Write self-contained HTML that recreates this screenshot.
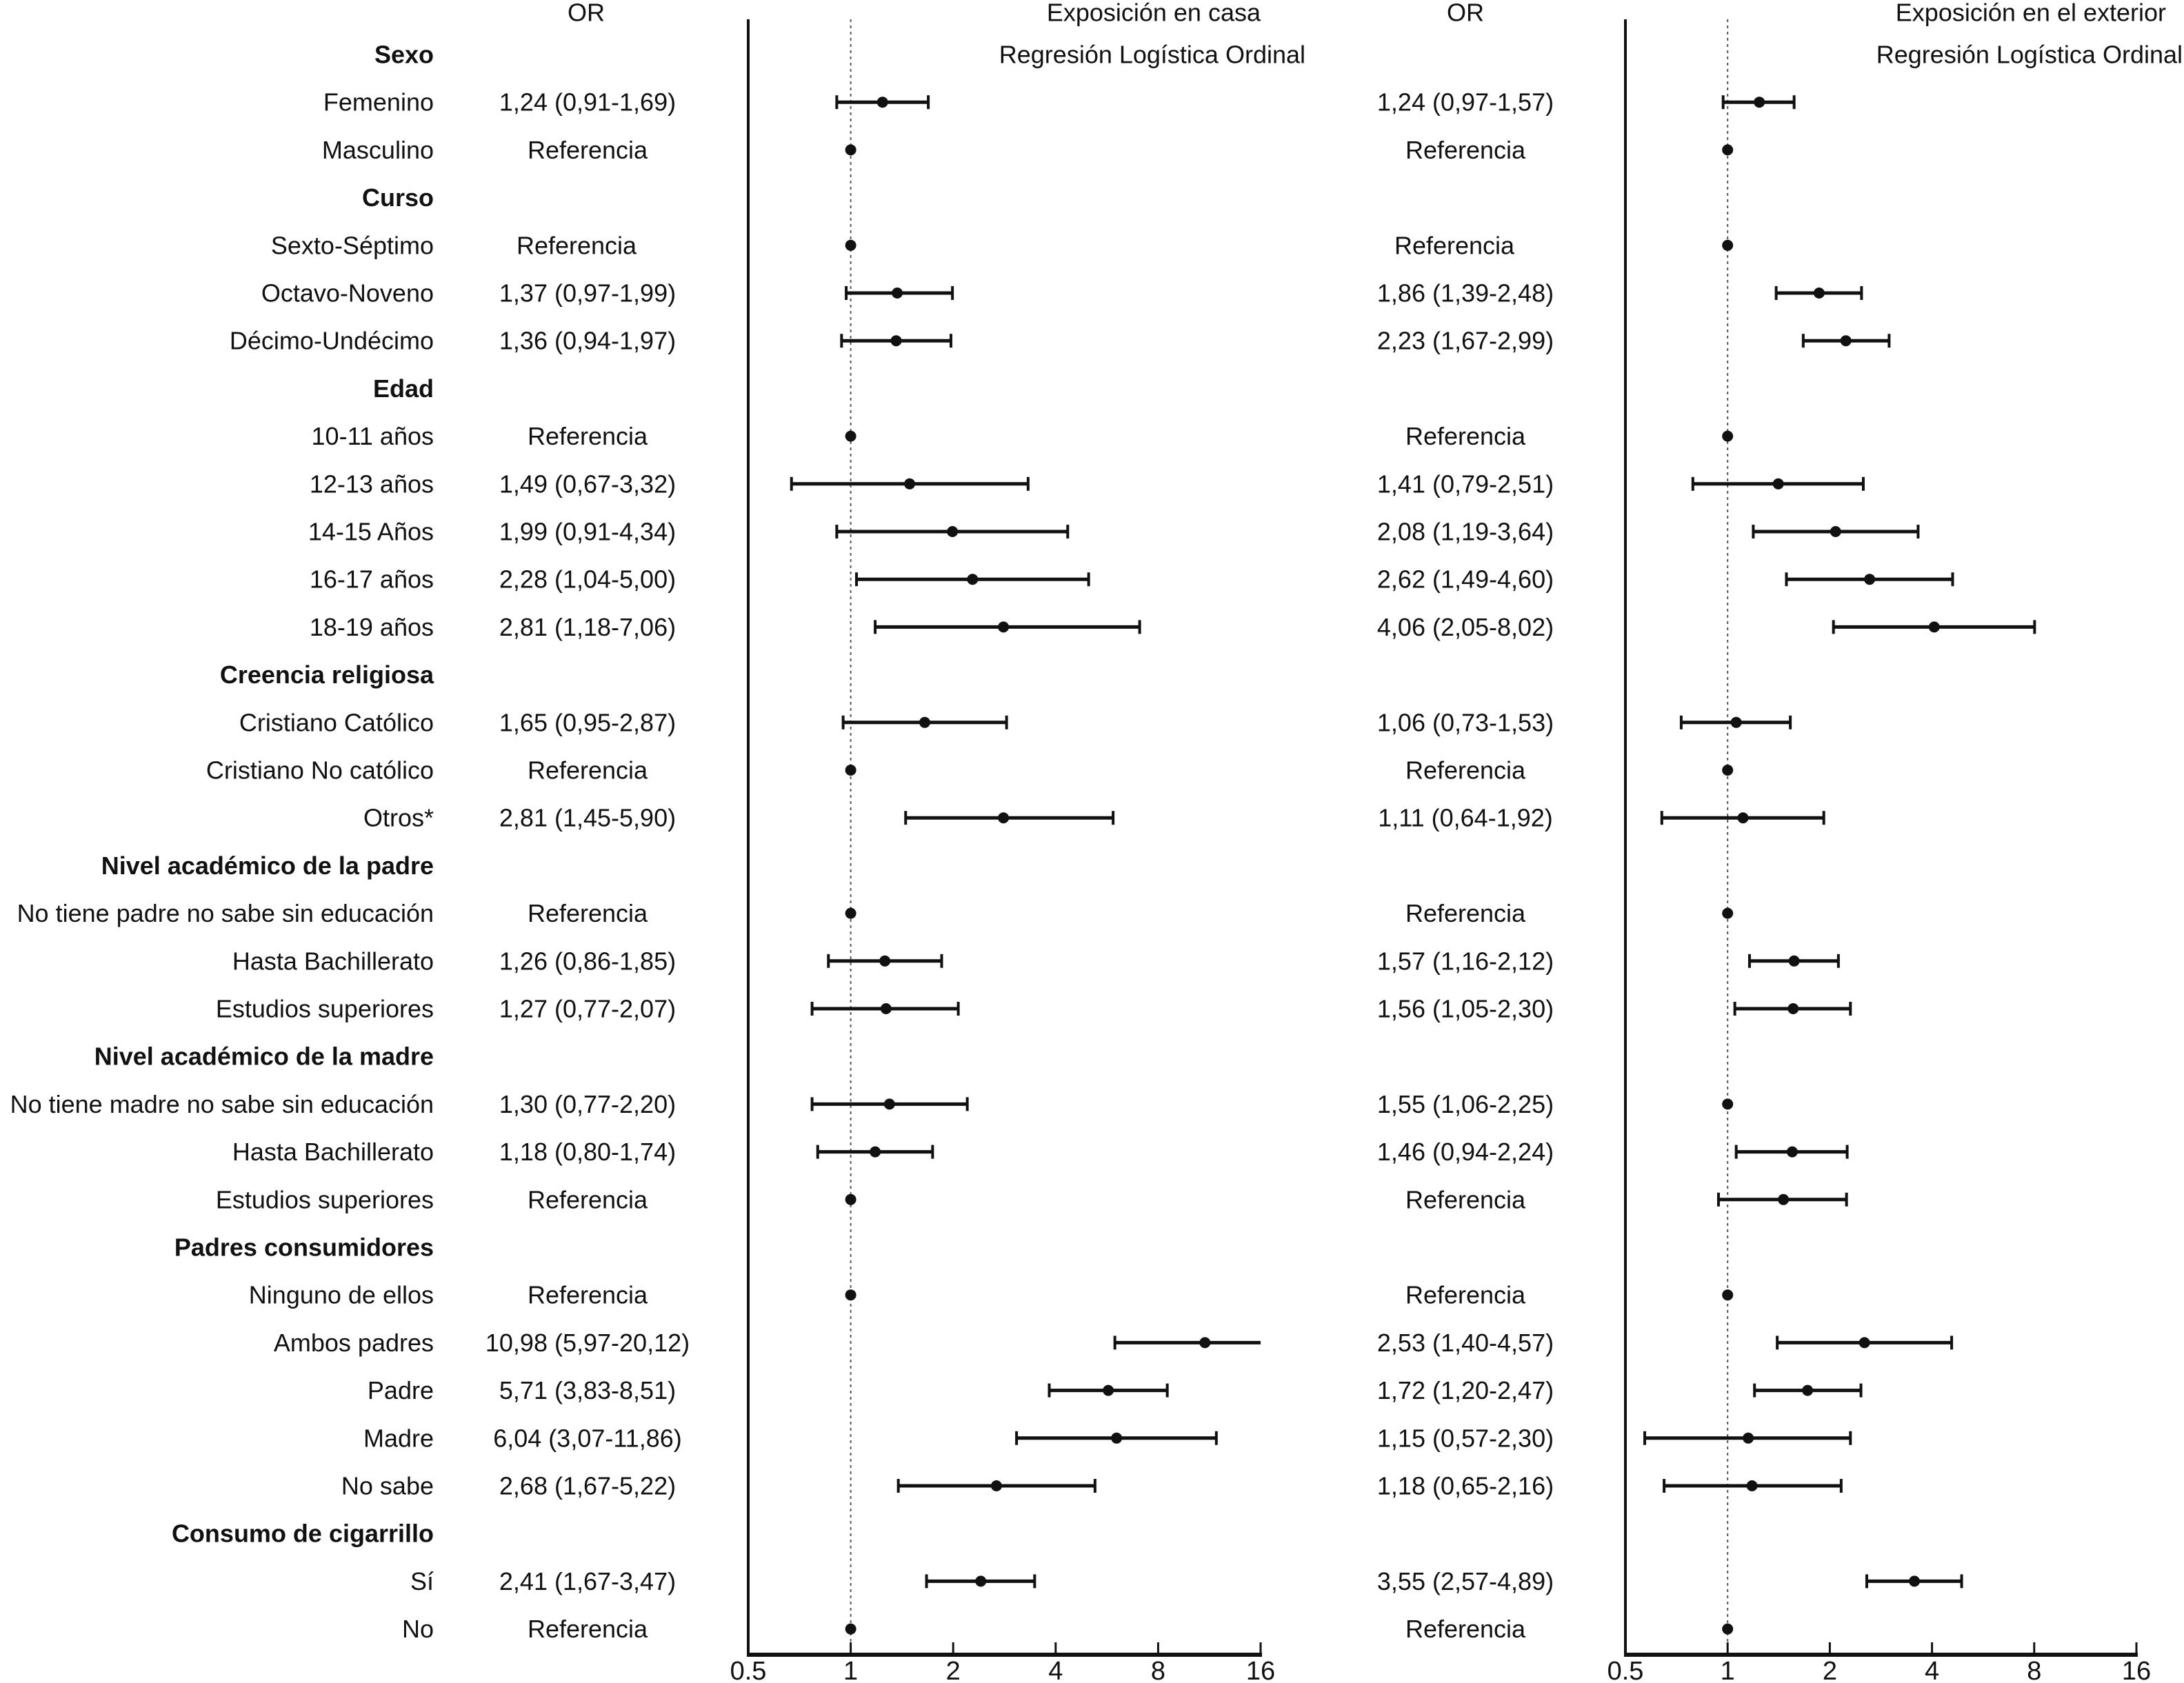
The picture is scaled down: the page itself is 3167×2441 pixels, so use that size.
<!DOCTYPE html>
<html><head><meta charset="utf-8"><style>
html,body{margin:0;padding:0;background:#fff}
svg{display:block}
text{font-family:"Liberation Sans",Arial,sans-serif;fill:#111}
</style></head><body>
<svg id="chart" width="3167" height="2441" viewBox="0 0 3167 2441" xmlns="http://www.w3.org/2000/svg"></svg>
<script>
const rowLabels = ["Sexo","Femenino","Masculino","Curso","Sexto-Séptimo","Octavo-Noveno","Décimo-Undécimo","Edad","10-11 años","12-13 años","14-15 Años","16-17 años","18-19 años","Creencia religiosa","Cristiano Católico","Cristiano No católico","Otros*","Nivel académico de la padre","No tiene padre no sabe sin educación","Hasta Bachillerato","Estudios superiores","Nivel académico de la madre","No tiene madre no sabe sin educación","Hasta Bachillerato","Estudios superiores","Padres consumidores","Ninguno de ellos","Ambos padres","Padre","Madre","No sabe","Consumo de cigarrillo","Sí","No"];
const headerRows = [0,3,7,13,17,21,25,31];
const R = "Referencia";
const leftText = ["","1,24 (0,91-1,69)",R,"",R,"1,37 (0,97-1,99)","1,36 (0,94-1,97)","",R,"1,49 (0,67-3,32)","1,99 (0,91-4,34)","2,28 (1,04-5,00)","2,81 (1,18-7,06)","","1,65 (0,95-2,87)",R,"2,81 (1,45-5,90)","",R,"1,26 (0,86-1,85)","1,27 (0,77-2,07)","","1,30 (0,77-2,20)","1,18 (0,80-1,74)",R,"",R,"10,98 (5,97-20,12)","5,71 (3,83-8,51)","6,04 (3,07-11,86)","2,68 (1,67-5,22)","","2,41 (1,67-3,47)",R];
const rightText = ["","1,24 (0,97-1,57)",R,"",R,"1,86 (1,39-2,48)","2,23 (1,67-2,99)","",R,"1,41 (0,79-2,51)","2,08 (1,19-3,64)","2,62 (1,49-4,60)","4,06 (2,05-8,02)","","1,06 (0,73-1,53)",R,"1,11 (0,64-1,92)","",R,"1,57 (1,16-2,12)","1,56 (1,05-2,30)","","1,55 (1,06-2,25)","1,46 (0,94-2,24)",R,"",R,"2,53 (1,40-4,57)","1,72 (1,20-2,47)","1,15 (0,57-2,30)","1,18 (0,65-2,16)","","3,55 (2,57-4,89)",R];
const leftOR = [null,1.24,1,null,1,1.37,1.36,null,1,1.49,1.99,2.28,2.81,null,1.65,1,2.81,null,1,1.26,1.27,null,1.30,1.18,1,null,1,10.98,5.71,6.04,2.68,null,2.41,1];
const leftLo = [null,0.91,null,null,null,0.97,0.94,null,null,0.67,0.91,1.04,1.18,null,0.95,null,1.45,null,null,0.86,0.77,null,0.77,0.80,null,null,null,5.97,3.83,3.07,1.38,null,1.67,null];
const leftHi = [null,1.69,null,null,null,1.99,1.97,null,null,3.32,4.34,5.00,7.06,null,2.87,null,5.90,null,null,1.85,2.07,null,2.20,1.74,null,null,null,20.12,8.51,11.86,5.22,null,3.47,null];
const rightOR = [null,1.24,1,null,1,1.86,2.23,null,1,1.41,2.08,2.62,4.06,null,1.06,1,1.11,null,1,1.57,1.56,null,1,1.55,1.46,null,1,2.53,1.72,1.15,1.18,null,3.55,1];
const rightLo = [null,0.97,null,null,null,1.39,1.67,null,null,0.79,1.19,1.49,2.05,null,0.73,null,0.64,null,null,1.16,1.05,null,null,1.06,0.94,null,null,1.40,1.20,0.57,0.65,null,2.57,null];
const rightHi = [null,1.57,null,null,null,2.48,2.99,null,null,2.51,3.64,4.60,8.02,null,1.53,null,1.92,null,null,2.12,2.30,null,null,2.25,2.24,null,null,4.57,2.47,2.30,2.16,null,4.89,null];
const ticks = [0.5,1,2,4,8,16];
const tickLabels = ["0.5","1","2","4","8","16"];

const NS="http://www.w3.org/2000/svg";
const svg=document.getElementById('chart');
function el(tag,attrs,parent){const e=document.createElementNS(NS,tag);for(const k in attrs)e.setAttribute(k,attrs[k]);(parent||svg).appendChild(e);return e;}
const rowY = i => 79 + i*69.2;
const yTop=28, yAxis=2400;
function makeX(x0,x1){return v=>{const c=Math.min(16,Math.max(0.5,v));return x0+(Math.log2(c)+1)/5*(x1-x0);};}
const xL = makeX(1085,1828), xR = makeX(2357,3098);
const FS=36;

function txt(x,y,s,anchor,size,bold,name){
  const t=el('text',{x:x,y:y,'text-anchor':anchor,'font-size':size,'dominant-baseline':'central','font-weight':bold?'bold':'normal'});
  t.textContent=s;
  
  
  return t;
}
txt(850,18,"OR","middle",FS,false,"or-header-left");
txt(2125,18,"OR","middle",FS,false,"or-header-right");
txt(1828,18,"Exposición en casa","end",FS,false,"panel-title-home");
txt(1893,79,"Regresión Logística Ordinal","end",FS,false,"panel-subtitle-home");
txt(3141,18,"Exposición en el exterior","end",FS,false,"panel-title-outside");
txt(3165,79,"Regresión Logística Ordinal","end",FS,false,"panel-subtitle-outside");

rowLabels.forEach((s,i)=>{
  const b=headerRows.includes(i);
  txt(629,rowY(i),s,"end",FS,b,b?"group-header":"row-label");
  const lx = (i===4)?836:852;
  const rx = (i===4)?2109:2125;
  if(leftText[i]) txt(lx,rowY(i),leftText[i],"middle",FS,false,"or-value-home");
  if(rightText[i]) txt(rx,rowY(i),rightText[i],"middle",FS,false,"or-value-outside");
});

function panel(X,ors,los,his,key){
  const g=el('g',{});
  
  
  const ax=el('line',{x1:X(0.5),x2:X(0.5),y1:yTop,y2:yAxis,stroke:'#111','stroke-width':4},g);
  
  
  const ref=el('line',{x1:X(1),x2:X(1),y1:yTop,y2:yAxis,stroke:'#555','stroke-width':2,'stroke-dasharray':'4,5'},g);
  
  
  const xa=el('line',{x1:X(0.5)-2,x2:X(16)+2,y1:yAxis,y2:yAxis,stroke:'#111','stroke-width':6},g);
  
  
  ticks.forEach((t,k)=>{
    const tk=el('line',{x1:X(t),x2:X(t),y1:yAxis-18,y2:yAxis,stroke:'#111','stroke-width':3},g);
    
    
    const tl=el('text',{x:X(t),y:2424,'text-anchor':'middle','font-size':38,'dominant-baseline':'central'},g);
    tl.textContent=tickLabels[k];
    
    
  });
  ors.forEach((v,i)=>{
    if(v===null)return;
    const y=rowY(i);
    if(los[i]!==null){
      const a=X(los[i]),b=X(his[i]);
      const ci=el('line',{x1:a,x2:b,y1:y,y2:y,stroke:'#111','stroke-width':5},g);
      
      
      [[los[i],a],[his[i],b]].forEach(([val,px])=>{
        if(val<0.5||val>16)return;
        const cap=el('line',{x1:px,x2:px,y1:y-10,y2:y+10,stroke:'#111','stroke-width':4},g);
        
        
      });
    }
    const d=el('circle',{cx:X(v),cy:y,r:8,fill:'#111'},g);
    
    
  });
}
panel(xL,leftOR,leftLo,leftHi,'home');
panel(xR,rightOR,rightLo,rightHi,'outside');
</script>
</body></html>
